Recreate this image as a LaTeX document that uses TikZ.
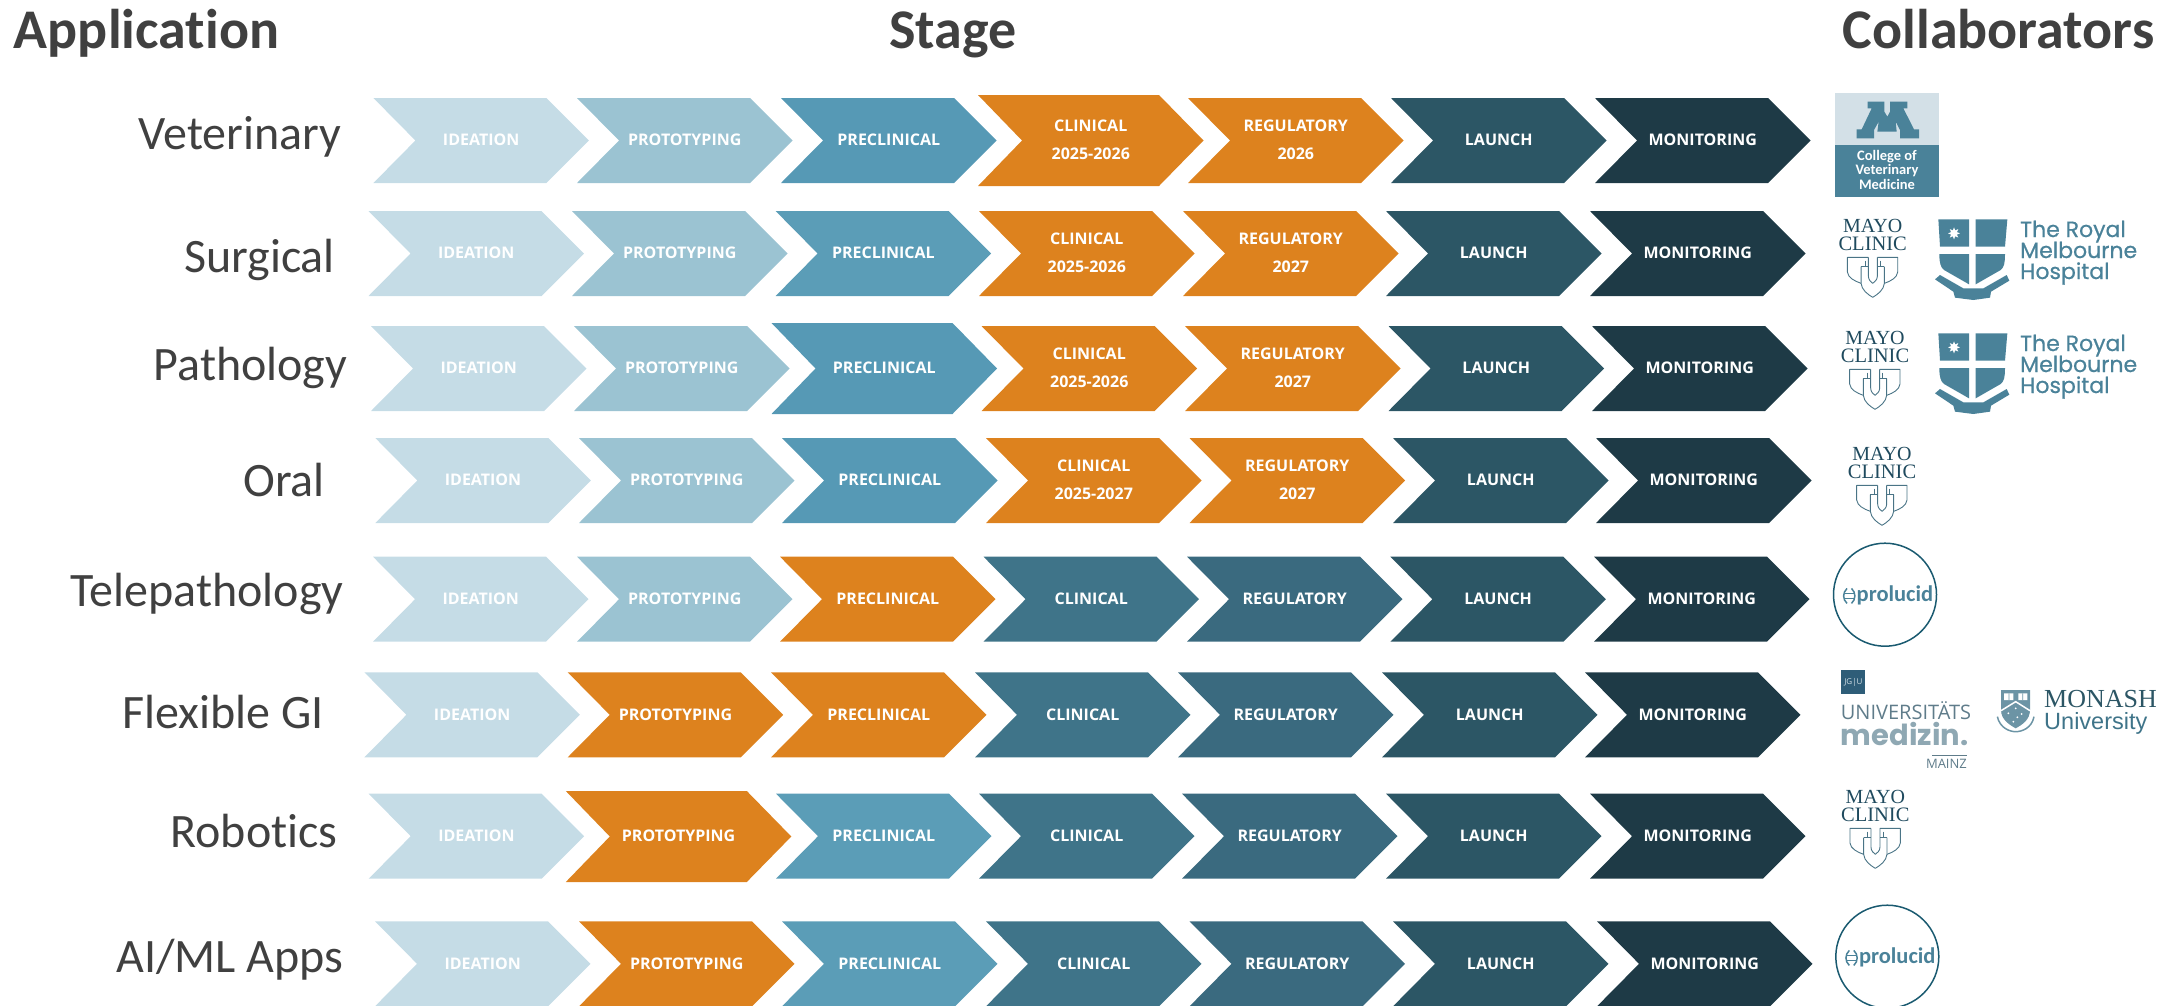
\documentclass[tikz,border=0pt]{standalone}
\usepackage{fontspec}
\usetikzlibrary{shapes.geometric}
\setmainfont{Carlito}[Ligatures=NoCommon]
\newfontfamily\chvf{Open Sans}
\newfontfamily\mayof{Liberation Serif}
\newfontfamily\rmhf{Poppins}[FakeBold=0.6]
\newfontfamily\medf{Poppins}
\newfontfamily\lightf{Open Sans}
\newfontfamily\arialf{Liberation Sans}
\definecolor{cIde}{HTML}{C5DCE6}
\definecolor{cPro}{HTML}{9BC3D2}
\definecolor{cPre}{HTML}{5699B5}
\definecolor{cPrb}{HTML}{5B9DB7}
\definecolor{cCli}{HTML}{3F7489}
\definecolor{cReg}{HTML}{3A6A7F}
\definecolor{cLau}{HTML}{2C5665}
\definecolor{cMon}{HTML}{1E3A46}
\definecolor{cOra}{HTML}{DD821E}
\definecolor{cTxt}{HTML}{404040}
\definecolor{cLogo}{HTML}{4A8299}
\definecolor{cPale}{HTML}{D3E0E7}
\definecolor{cMayo}{HTML}{1F4A5E}
\definecolor{cSh}{HTML}{4A7486}
\definecolor{cRing}{HTML}{1A5A70}
\definecolor{cGrey}{HTML}{5F7C8A}
\definecolor{cMed}{HTML}{8FA8B3}
\definecolor{cMon2}{HTML}{6C94A5}
\definecolor{cJgu}{HTML}{2E5D78}
\tikzset{
  chevtext/.style={anchor=base,inner sep=0pt,text=white,font=\chvf\bfseries\fontsize{16}{20}\selectfont},
  rowlabel/.style={anchor=base,inner sep=0pt,text=cTxt,font=\fontsize{48}{50}\selectfont},
  headlabel/.style={anchor=base,inner sep=0pt,text=cTxt,font=\bfseries\fontsize{56}{60}\selectfont},
  zoomed/.style={x=0.33333pt,y=-0.33333pt},
  logotext/.style={inner sep=0pt,anchor=center},
  shieldline/.style={draw=cSh,line width=0.9pt,line join=round}
}
% \cv{name}{L}{top}{bot}{colour}{notch}{shoulder}{tip}
\newcommand\cv[8]{%
  \path[fill=#5] (#2,#3) -- ({#2+#7},#3) -- ({#2+#8},{(#3+#4)/2}) -- ({#2+#7},#4) -- (#2,#4) -- ({#2+#6},{(#3+#4)/2}) -- cycle;
  \coordinate (#1) at ({#2+#8/2},{(#3+#4)/2});
}
\newcommand\reg[5]{\cv{#1}{#2}{#3}{#3+85}{#4}{42}{173}{215.5}\node[chevtext] (#1t) at ([yshift=-5.2pt]#1) {#5};}
\newcommand\wid[5]{\cv{#1}{#2}{#3}{#3+91}{#4}{44}{181}{225.5}\node[chevtext] (#1t) at ([yshift=-5.2pt]#1) {#5};}
\newcommand\regii[6]{\cv{#1}{#2}{#3}{#3+85}{#4}{42}{173}{215.5}\node[chevtext] (#1t) at ([yshift=9.3pt]#1) {#5};\node[chevtext] (#1u) at ([yshift=-19.2pt]#1) {#6};}
\newcommand\widii[6]{\cv{#1}{#2}{#3}{#3+91}{#4}{44}{181}{225.5}\node[chevtext] (#1t) at ([yshift=9.3pt]#1) {#5};\node[chevtext] (#1u) at ([yshift=-19.2pt]#1) {#6};}
% Mayo logo
\newcommand\mayo[3]{%
  \node[logotext,text=cMayo,font=\mayof\fontsize{20}{20}\selectfont] (#1a) at (#2,#3) {MAYO};
  \node[logotext,text=cMayo,font=\mayof\fontsize{20.5}{20}\selectfont] (#1b) at (#2,#3+18) {CLINIC};
  \begin{scope}[shift={(#2,#3)},zoomed]
    \draw[shieldline] (-13,94) -- (-76,94) -- (-76,138) .. controls (-74,155) and (-55,165) .. (-35,172);
    \draw[shieldline] (14,94) -- (75,94) -- (75,138) .. controls (73,155) and (55,165) .. (35,172);
    \draw[shieldline] (-35,122) -- (-35,172) .. controls (-33,192) and (-15,205) .. (0,214) .. controls (15,205) and (33,192) .. (35,172) -- (35,122);
    \draw[shieldline] (-35,122) -- (-13,122) (14,122) -- (35,122);
    \draw[shieldline] (-13,94) -- (-13,150) .. controls (-13,162) and (-5,168) .. (0,172) .. controls (5,168) and (14,162) .. (14,150) -- (14,94);
    \draw[shieldline] (-23,104) -- (-23,122) (23,104) -- (23,122);
  \end{scope}
}
% Royal Melbourne logo
\newcommand\rmh[2]{%
  \begin{scope}[shift={(1800,70+#2)},zoomed]
    \fill[cLogo] (415,448) -- (507,448) -- (507,530) -- (420,530) -- cycle;
    \fill[cLogo] (527,448) -- (622,448) -- (615,530) -- (527,530) -- cycle;
    \fill[cLogo] (418,552) -- (507,552) -- (507,643) -- (432,600) .. controls (422,592) and (418,580) .. cycle;
    \fill[cLogo] (527,552) -- (615,552) .. controls (615,580) and (612,592) .. (602,600) -- (527,643) -- cycle;
    \fill[cLogo] (405,628) -- (420,615) -- (490,655) -- (550,655) -- (620,615) -- (628,632) -- (573,665) -- (570,683) -- (520,690) -- (465,683) -- (460,665) -- cycle;
    \node[star,star points=8,star point ratio=1.9,fill=white,inner sep=0pt,minimum size=12pt] (#1s) at (462,490) {};
  \end{scope}
  \node[logotext,anchor=base west,text=cLogo,font=\rmhf\fontsize{22}{22}\selectfont] (#1a) at (2020,237+#2) {The Royal};
  \node[logotext,anchor=base west,text=cLogo,font=\rmhf\fontsize{22}{22}\selectfont] (#1b) at (2020,258+#2) {Melbourne};
  \node[logotext,anchor=base west,text=cLogo,font=\rmhf\fontsize{22}{22}\selectfont] (#1c) at (2020,279+#2) {Hospital};
}
% Prolucid logo
\newcommand\prol[3]{%
  \node[circle,draw=cRing,line width=1.5pt,minimum size=103pt,inner sep=0pt] (#1) at (#2,#3) {};
  \node[logotext,anchor=base west,text=cLogo,font=\bfseries\fontsize{22.5}{26}\selectfont] (#1t) at (#2-28.5,#3+6.3) {prolucid};
  \begin{scope}[shift={(#2,#3)},cLogo,line width=1.5pt]
    \draw (-38,-6.3) .. controls (-42.5,-2) and (-42.5,4.5) .. (-38,8.7);
    \draw (-33.5,-6.3) .. controls (-29,-2) and (-29,4.5) .. (-33.5,8.7);
    \draw (-40,-1.3) -- (-31.5,-1.3) (-40,3.7) -- (-31.5,3.7);
  \end{scope}
}
\begin{document}
\begin{tikzpicture}[x=1pt,y=-1pt]
\useasboundingbox (0,0) rectangle (2179,1005);
\clip (0,0) rectangle (2179,1005);
% headers
\node[headlabel] (hApp) at (146.5,48) {Application};
\node[headlabel] (hSta) at (953,48) {Stage};
\node[headlabel] (hCol) at (1998.5,48) {Collaborators};
% row labels
\node[rowlabel] (lVet) at (240,149.5) {Veterinary};
\node[rowlabel] (lSur) at (259.5,272.5) {Surgical};
\node[rowlabel] (lPat) at (250.5,380.5) {Pathology};
\node[rowlabel] (lOra) at (284,496.5) {Oral};
\node[rowlabel] (lTel) at (207,606) {Telepathology};
\node[rowlabel] (lFle) at (223,728) {Flexible GI};
\node[rowlabel] (lRob) at (254,847.5) {Robotics};
\node[rowlabel] (lAim) at (230,972) {AI/ML Apps};
% row 1
\reg{aa}{373.4}{98}{cIde}{IDEATION}
\reg{ab}{577}{98}{cPro}{PROTOTYPING}
\reg{ac}{781}{98}{cPre}{PRECLINICAL}
\widii{ad}{978}{95}{cOra}{CLINICAL}{2025-2026}
\regii{ae}{1188}{98}{cOra}{REGULATORY}{2026}
\reg{af}{1391}{98}{cLau}{LAUNCH}
\reg{ag}{1595}{98}{cMon}{MONITORING}
% row 2
\reg{ba}{368.5}{211}{cIde}{IDEATION}
\reg{bb}{572}{211}{cPro}{PROTOTYPING}
\reg{bc}{775.6}{211}{cPrb}{PRECLINICAL}
\regii{bd}{979}{211}{cOra}{CLINICAL}{2025-2026}
\regii{be}{1183}{211}{cOra}{REGULATORY}{2027}
\reg{bf}{1386}{211}{cLau}{LAUNCH}
\reg{bg}{1590}{211}{cMon}{MONITORING}
% row 3
\reg{ca}{371}{326}{cIde}{IDEATION}
\reg{cb}{574}{326}{cPro}{PROTOTYPING}
\wid{cc}{771.5}{323}{cPre}{PRECLINICAL}
\regii{cd}{981.5}{326}{cOra}{CLINICAL}{2025-2026}
\regii{ce}{1185}{326}{cOra}{REGULATORY}{2027}
\reg{cf}{1388.5}{326}{cLau}{LAUNCH}
\reg{cg}{1592}{326}{cMon}{MONITORING}
% row 4
\reg{da}{375.3}{438}{cIde}{IDEATION}
\reg{db}{579}{438}{cPro}{PROTOTYPING}
\reg{dc}{782}{438}{cPre}{PRECLINICAL}
\regii{dd}{986}{438}{cOra}{CLINICAL}{2025-2027}
\regii{de}{1189.5}{438}{cOra}{REGULATORY}{2027}
\reg{df}{1393}{438}{cLau}{LAUNCH}
\reg{dg}{1596}{438}{cMon}{MONITORING}
% row 5
\reg{ea}{373}{556.7}{cIde}{IDEATION}
\reg{eb}{577}{556.7}{cPro}{PROTOTYPING}
\reg{ec}{780}{556.7}{cOra}{PRECLINICAL}
\reg{ed}{983.5}{556.7}{cCli}{CLINICAL}
\reg{ee}{1187}{556.7}{cReg}{REGULATORY}
\reg{ef}{1390.4}{556.7}{cLau}{LAUNCH}
\reg{eg}{1594}{556.7}{cMon}{MONITORING}
% row 6
\reg{fa}{364.4}{672.3}{cIde}{IDEATION}
\reg{fb}{567.7}{672.3}{cOra}{PROTOTYPING}
\reg{fc}{771}{672.3}{cOra}{PRECLINICAL}
\reg{fd}{975}{672.3}{cCli}{CLINICAL}
\reg{fe}{1178}{672.3}{cReg}{REGULATORY}
\reg{ff}{1382}{672.3}{cLau}{LAUNCH}
\reg{fg}{1585}{672.3}{cMon}{MONITORING}
% row 7
\reg{ga}{368.7}{793.7}{cIde}{IDEATION}
\wid{gb}{565.8}{791}{cOra}{PROTOTYPING}
\reg{gc}{776}{793.7}{cPrb}{PRECLINICAL}
\reg{gd}{979}{793.7}{cCli}{CLINICAL}
\reg{ge}{1182}{793.7}{cReg}{REGULATORY}
\reg{gf}{1386}{793.7}{cLau}{LAUNCH}
\reg{gg}{1590}{793.7}{cMon}{MONITORING}
% row 8
\reg{ha}{375}{921.3}{cIde}{IDEATION}
\reg{hb}{579}{921.3}{cOra}{PROTOTYPING}
\reg{hc}{782}{921.3}{cPrb}{PRECLINICAL}
\reg{hd}{986}{921.3}{cCli}{CLINICAL}
\reg{he}{1189.5}{921.3}{cReg}{REGULATORY}
\reg{hf}{1393}{921.3}{cLau}{LAUNCH}
\reg{hg}{1597}{921.3}{cMon}{MONITORING}
% vet logo
\fill[cPale] (1835,93) rectangle (1939,145);
\fill[cLogo] (1835,145) rectangle (1939,197);
\begin{scope}[shift={(1800,70)},zoomed]
  \fill[cLogo] (170,205) -- (170,178) -- (185,178) -- (215,115) -- (203,115) -- (203,95) -- (253,95) -- (253,125) -- (262,140) -- (270,125) -- (270,95) -- (322,95) -- (322,115) -- (310,115) -- (342,178) -- (357,178) -- (357,205) -- (300,205) -- (300,180) -- (287,155) -- (290,185) -- (232,185) -- (236,155) -- (222,180) -- (222,205) -- cycle;
\end{scope}
\node[logotext,text=white,font=\bfseries\fontsize{14.5}{14}\selectfont] (v1) at (1887,157) {College of};
\node[logotext,text=white,font=\bfseries\fontsize{14.5}{14}\selectfont] (v2) at (1887,171) {Veterinary};
\node[logotext,text=white,font=\bfseries\fontsize{14.5}{14}\selectfont] (v3) at (1887,184) {Medicine};
% collaborators
\mayo{m2}{1872.7}{226}
\rmh{r2}{0}
\mayo{m3}{1875}{338}
\rmh{r3}{114}
\mayo{m4}{1882}{454}
\prol{p5}{1885}{594.7}
\mayo{m7}{1875.3}{797}
\prol{p8}{1887.3}{956.7}
% universitaetsmedizin
\node[fill=cJgu,minimum size=24pt,inner sep=0pt,text=cPale,font=\lightf\fontsize{8}{8}\selectfont] (jgu) at (1853.4,682) {JG|U};
\node[logotext,anchor=west,text=cGrey,font=\lightf\fontsize{20}{20}\selectfont] (um1) at (1840.7,711) {UNIVERSITÄTS};
\node[logotext,anchor=base west,text=cMed,font=\medf\bfseries\fontsize{29}{29}\selectfont] (um2) at (1840.7,745) {medizin.};
\node[logotext,anchor=east,text=cGrey,font=\lightf\fontsize{13}{13}\selectfont] (um3) at (1967,764) {MAINZ};
\draw[cGrey,line width=0.7pt] (1932,755) -- (1967,755);
% monash
\begin{scope}[shift={(1800,520)},zoomed]
  \fill[cMon2] (603,510) -- (690,510) -- (690,570) .. controls (690,600) and (665,615) .. (647,625) .. controls (630,615) and (603,600) .. (603,570) -- cycle;
  \draw[white,line width=1.5pt] (603,572) -- (647,545) -- (690,572);
  \fill[white] (612,520) rectangle (640,540) (655,520) rectangle (682,540);
  \fill[cMon2] (626,520) rectangle (628,540) (667,520) rectangle (669,540);
  \foreach \dotx/\doty in {647/565,625/580,665/582,652/592,640/605}{\fill[white] (\dotx,\doty) circle (1pt);}
  \draw[cMon2,line width=1.5pt] (592,590) .. controls (600,625) and (630,635) .. (647,635) .. controls (665,635) and (695,625) .. (702,590);
\end{scope}
\node[logotext,anchor=west,text=cLau,font=\mayof\fontsize{26}{26}\selectfont] (mo1) at (2044,699) {MONASH};
\node[logotext,anchor=west,text=cCli,font=\arialf\fontsize{23.5}{24}\selectfont] (mo2) at (2044,723) {University};
\end{tikzpicture}
\end{document}
